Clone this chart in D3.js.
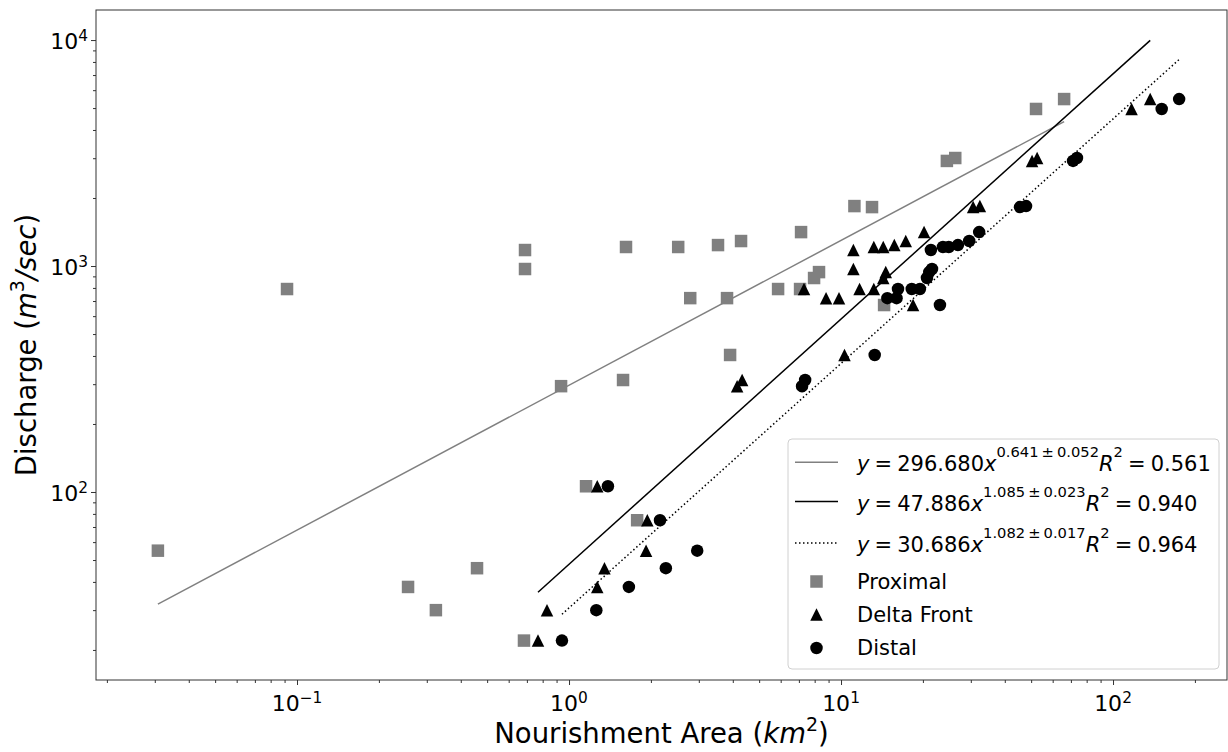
<!DOCTYPE html>
<html>
<head>
<meta charset="utf-8">
<script src="https://cdn.jsdelivr.net/npm/d3@7"></script>
<style>
  body { margin: 0; background: #fff; }
  svg { display: block; }
  text { font-family: "DejaVu Sans", sans-serif; fill: #000; }
</style>
</head>
<body>
<svg id="chart" width="1228" height="752"></svg>
<script>
// Discharge (m^3/s) per river, shared by the three nourishment zones
const discharge = [22, 30, 38, 46, 55, 75, 106, 294, 313, 404, 672, 721, 721, 791, 791, 791,
  885, 940, 970, 1177, 1214, 1214, 1238, 1290, 1413, 1823, 1842, 2918, 3006, 4955, 5481];
// Nourishment area (km^2) of each zone, same order as discharge
const proximalArea = [0.683, 0.324, 0.256, 0.459, 0.0308, 1.78, 1.155, 0.935, 1.58, 3.91, 14.4,
  2.79, 3.81, 0.0919, 5.87, 7.07, 7.96, 8.30, 0.689, 0.689, 1.62, 2.52, 3.53, 4.29, 7.13,
  13.0, 11.2, 24.5, 26.3, 52.1, 66.1];
const deltaFrontArea = [0.769, 0.830, 1.27, 1.35, 1.92, 1.94, 1.27, 4.15, 4.33, 10.3, 18.4,
  8.81, 9.83, 7.31, 11.7, 13.2, 14.3, 14.6, 11.1, 11.1, 13.2, 14.3, 15.7, 17.3, 20.2,
  30.6, 32.4, 50.4, 52.6, 117, 137];
const distalArea = [0.942, 1.26, 1.66, 2.27, 2.96, 2.16, 1.39, 7.19, 7.38, 13.3, 23.1,
  14.8, 16.0, 16.2, 18.2, 19.5, 20.7, 21.1, 21.6, 21.4, 23.7, 24.9, 26.9, 29.6, 32.2,
  45.5, 47.9, 71.3, 73.7, 151, 175];

// Power-law fits y = a * x^b
const seriesNames = ["Proximal", "Delta Front", "Distal"];
const fitCoef = [296.680, 47.886, 30.686];
const fitExp = [0.641, 1.085, 1.082];
const fitErr = [0.052, 0.023, 0.017];
const fitR2 = [0.561, 0.940, 0.964];

// Axis ticks
const xMajor = [0.1, 1, 10, 100];
const xMajorExp = ["\u22121", "0", "1", "2"];
const yMajor = [100, 1000, 10000];
const yMajorExp = ["2", "3", "4"];

const svg = d3.select("#chart");
const L = 96, R = 1227, T = 10, B = 680;

const x = d3.scaleLog().domain([Math.pow(10, -1.739), Math.pow(10, 2.419)]).range([L, R]);
const y = d3.scaleLog().domain([Math.pow(10, 1.168), Math.pow(10, 4.133)]).range([B, T]);

function minorTicks(scale) {
  const [d0, d1] = scale.domain();
  const out = [];
  for (let e = Math.floor(Math.log10(d0)); e <= Math.ceil(Math.log10(d1)); e++) {
    for (let k = 2; k <= 9; k++) {
      const v = k * Math.pow(10, e);
      if (v >= d0 && v <= d1) out.push(v);
    }
  }
  return out;
}

const tickColor = "#333";

// x axis ticks
const xAxisMajor = d3.axisBottom(x).tickValues(xMajor).tickSize(5).tickFormat("");
const xAxisMinor = d3.axisBottom(x).tickValues(minorTicks(x)).tickSize(3).tickFormat("");
[xAxisMajor, xAxisMinor].forEach(ax => {
  const g = svg.append("g").attr("transform", `translate(0,${B})`).call(ax);
  g.select(".domain").remove();
  g.selectAll("line").attr("stroke", tickColor).attr("stroke-width", 1);
});
// y axis ticks
const yAxisMajor = d3.axisLeft(y).tickValues(yMajor).tickSize(5).tickFormat("");
const yAxisMinor = d3.axisLeft(y).tickValues(minorTicks(y)).tickSize(3).tickFormat("");
[yAxisMajor, yAxisMinor].forEach(ax => {
  const g = svg.append("g").attr("transform", `translate(${L},0)`).call(ax);
  g.select(".domain").remove();
  g.selectAll("line").attr("stroke", tickColor).attr("stroke-width", 1);
});

// tick labels as 10^n
const tickFont = 22, supFont = 15.4, supRaise = 8;
xMajor.forEach((v, i) => {
  const t = svg.append("text").attr("x", x(v)).attr("y", 711)
    .attr("text-anchor", "middle").attr("font-size", tickFont);
  t.append("tspan").text("10");
  t.append("tspan").attr("dy", -supRaise).attr("font-size", supFont).text(xMajorExp[i]);
});
yMajor.forEach((v, i) => {
  const t = svg.append("text").attr("x", 88).attr("y", y(v) + 9)
    .attr("text-anchor", "end").attr("font-size", tickFont);
  t.append("tspan").text("10");
  t.append("tspan").attr("dy", -supRaise).attr("font-size", supFont).text(yMajorExp[i]);
});

// axis titles
const titleFont = 27.5, titleSup = 19, titleRaise = 12;
const xt = svg.append("text").attr("x", (L + R) / 2).attr("y", 743)
  .attr("text-anchor", "middle").attr("font-size", titleFont);
xt.append("tspan").text("Nourishment Area (");
xt.append("tspan").attr("font-style", "italic").text("km");
xt.append("tspan").attr("dy", -titleRaise).attr("font-size", titleSup).text("2");
xt.append("tspan").attr("dy", titleRaise).text(")");

const yt = svg.append("text").attr("transform", `translate(36,${(T + B) / 2}) rotate(-90)`)
  .attr("text-anchor", "middle").attr("font-size", titleFont);
yt.append("tspan").text("Discharge (");
yt.append("tspan").attr("font-style", "italic").text("m");
yt.append("tspan").attr("dy", -titleRaise).attr("font-size", titleSup).text("3");
yt.append("tspan").attr("dy", titleRaise).attr("font-style", "italic").text("/sec");
yt.append("tspan").text(")");

// fit lines
const areas = [proximalArea, deltaFrontArea, distalArea];
const lineStyles = [
  { color: "#808080", dash: null },
  { color: "#000", dash: null },
  { color: "#000", dash: "1.5,2.5" }
];
const line = d3.line().x(d => x(d[0])).y(d => y(d[1]));
areas.forEach((a, i) => {
  const [x0, x1] = d3.extent(a);
  const pts = [x0, x1].map(v => [v, fitCoef[i] * Math.pow(v, fitExp[i])]);
  svg.append("path").attr("d", line(pts)).attr("fill", "none")
    .attr("stroke", lineStyles[i].color).attr("stroke-width", 1.5)
    .attr("stroke-dasharray", lineStyles[i].dash);
});

// markers
const MS = 12.5;
const markerColors = ["#808080", "#000", "#000"];
function markerPath(kind, cx, cy) {
  const h = MS / 2;
  if (kind === 0) return `M${cx - h},${cy - h}h${MS}v${MS}h${-MS}Z`;
  if (kind === 1) return `M${cx},${cy - h}L${cx + h},${cy + h}L${cx - h},${cy + h}Z`;
  return `M${cx - h},${cy}a${h},${h} 0 1,0 ${MS},0a${h},${h} 0 1,0 ${-MS},0Z`;
}
areas.forEach((a, i) => {
  svg.append("g").selectAll("path").data(a.map((v, j) => [v, discharge[j]])).join("path")
    .attr("d", d => markerPath(i, x(d[0]), y(d[1])))
    .attr("fill", markerColors[i]);
});

// frame
svg.append("rect").attr("x", L).attr("y", T).attr("width", R - L).attr("height", B - T)
  .attr("fill", "none").attr("stroke", tickColor).attr("stroke-width", 1);

// legend
const lg = svg.append("g");
lg.append("rect").attr("x", 788).attr("y", 439).attr("width", 431).attr("height", 230)
  .attr("rx", 4).attr("fill", "#fff").attr("fill-opacity", 0.8)
  .attr("stroke", "#d0d0d0").attr("stroke-width", 1);
const lineRowY = [462.3, 501.5, 543];
const markRowY = [581.5, 614.5, 648];
const handleX0 = 795, handleX1 = 838, textX = 857;
const fmt3 = d3.format(".3f");
fitCoef.forEach((c, i) => {
  const ry = lineRowY[i];
  lg.append("line").attr("x1", handleX0).attr("x2", handleX1).attr("y1", ry).attr("y2", ry)
    .attr("stroke", lineStyles[i].color).attr("stroke-width", 1.5)
    .attr("stroke-dasharray", lineStyles[i].dash);
  const t = lg.append("text").attr("x", textX).attr("y", ry + 9).attr("font-size", 21)
    .attr("word-spacing", -1.6);
  const up = 14;
  t.append("tspan").attr("font-style", "italic").text("y");
  t.append("tspan").text(` = ${fmt3(c)}`);
  t.append("tspan").attr("font-style", "italic").text("x");
  t.append("tspan").attr("dy", -up).attr("font-size", 14.7).text(`${fmt3(fitExp[i])} \u00b1 ${fmt3(fitErr[i])}`);
  t.append("tspan").attr("dy", up).attr("font-style", "italic").text("R");
  t.append("tspan").attr("dy", -up).attr("font-size", 14.7).text("2");
  t.append("tspan").attr("dy", up).text(` = ${fmt3(fitR2[i])}`);
});
seriesNames.forEach((name, i) => {
  const ry = markRowY[i];
  lg.append("path").attr("d", markerPath(i, (handleX0 + handleX1) / 2, ry)).attr("fill", markerColors[i]);
  lg.append("text").attr("x", textX).attr("y", ry + 7).attr("font-size", 21).text(name);
});
</script>
</body>
</html>
